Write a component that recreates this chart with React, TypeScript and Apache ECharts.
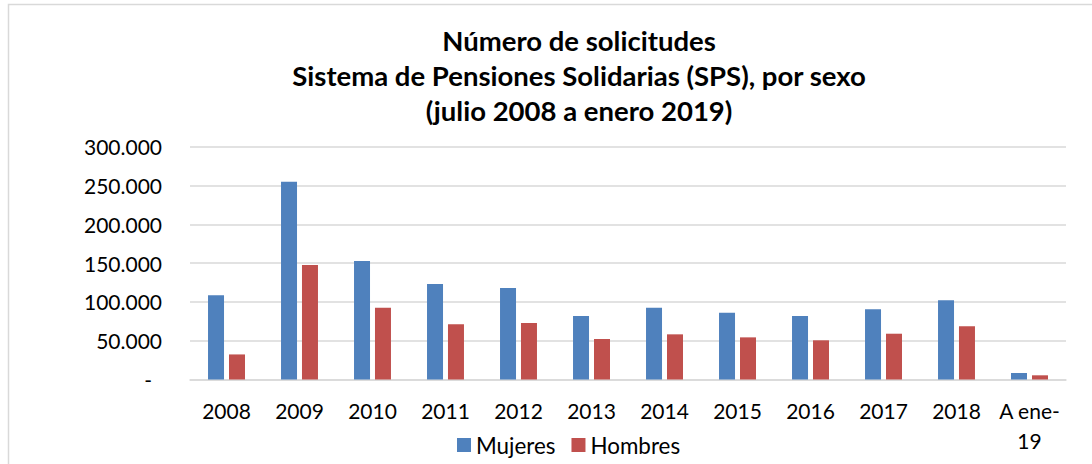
import React, { useEffect, useRef } from "react";
import * as echarts from "echarts";

const categories = ["2008", "2009", "2010", "2011", "2012", "2013", "2014", "2015", "2016", "2017", "2018", "A ene-\n19"];
const mujeres = [108700, 254900, 152600, 123000, 117900, 81800, 92500, 86100, 81800, 90400, 102000, 8400];
const hombres = [32300, 147500, 92400, 71100, 72800, 52200, 58200, 54300, 50500, 59000, 68500, 5400];
const titleLines = ["Número de solicitudes", "Sistema de Pensiones Solidarias (SPS), por sexo", "(julio 2008 a enero 2019)"];

const FONT = "Lato, 'Open Sans', sans-serif";

function fmt(v: number): string {
  if (v === 0) return "{z|-}";
  return String(Math.round(v)).replace(/\B(?=(\d{3})+(?!\d))/g, ".");
}

export default function App() {
  const ref = useRef<HTMLDivElement>(null);
  useEffect(() => {
    if (!ref.current) return;
    const chart = echarts.init(ref.current, null, { renderer: "svg" });
    chart.setOption({
      animation: false,
      backgroundColor: "#ffffff",
      title: {
        text: titleLines.join("\n"),
        left: 579,
        top: 23,
        padding: 0,
        textAlign: "center",
        textStyle: { fontFamily: FONT, fontWeight: "bold", fontSize: 27.5, lineHeight: 35, color: "#000000" },
      },
      graphic: [
        {
          type: "rect",
          shape: { x: 8.5, y: 4.5, width: 1200, height: 600 },
          style: { fill: "none", stroke: "#d9d9d9", lineWidth: 1.5 },
          silent: true,
          z: -1,
        },
      ],
      legend: {
        data: ["Mujeres", "Hombres"],
        left: 457,
        top: 434,
        padding: 0,
        itemWidth: 14,
        itemHeight: 14,
        itemGap: 16,
        icon: "rect",
        textStyle: { fontFamily: FONT, fontSize: 22.4, color: "#000000" },
      },
      grid: { left: 190, right: 26, top: 146.7, bottom: 84.5, containLabel: false },
      xAxis: {
        type: "category",
        data: categories,
        axisLine: { lineStyle: { color: "#d9d9d9", width: 1.5 } },
        axisTick: { show: false },
        axisLabel: { fontFamily: FONT, fontSize: 21, color: "#000000", margin: 16, lineHeight: 30, interval: 0 },
      },
      yAxis: {
        type: "value",
        min: 0,
        max: 300000,
        interval: 50000,
        axisLine: { show: false },
        axisTick: { show: false },
        splitLine: { lineStyle: { color: "#d9d9d9", width: 1.5 } },
        axisLabel: {
          fontFamily: FONT,
          fontSize: 21,
          color: "#000000",
          margin: 28,
          formatter: fmt,
          rich: { z: { fontFamily: FONT, fontSize: 21, color: "#000000", padding: [0, 10, 0, 0] } },
        },
      },
      series: [
        {
          name: "Mujeres",
          type: "bar",
          data: mujeres,
          barWidth: 16,
          barGap: "31%",
          itemStyle: { color: "#4F81BD" },
        },
        {
          name: "Hombres",
          type: "bar",
          data: hombres,
          barWidth: 16,
          barGap: "31%",
          itemStyle: { color: "#C0504D" },
        },
      ],
    });
    return () => chart.dispose();
  }, []);
  return (
    <div
      ref={ref}
      style={{ position: "absolute", left: 0, top: 0, width: 1092, height: 464, background: "#fff" }}
    />
  );
}
